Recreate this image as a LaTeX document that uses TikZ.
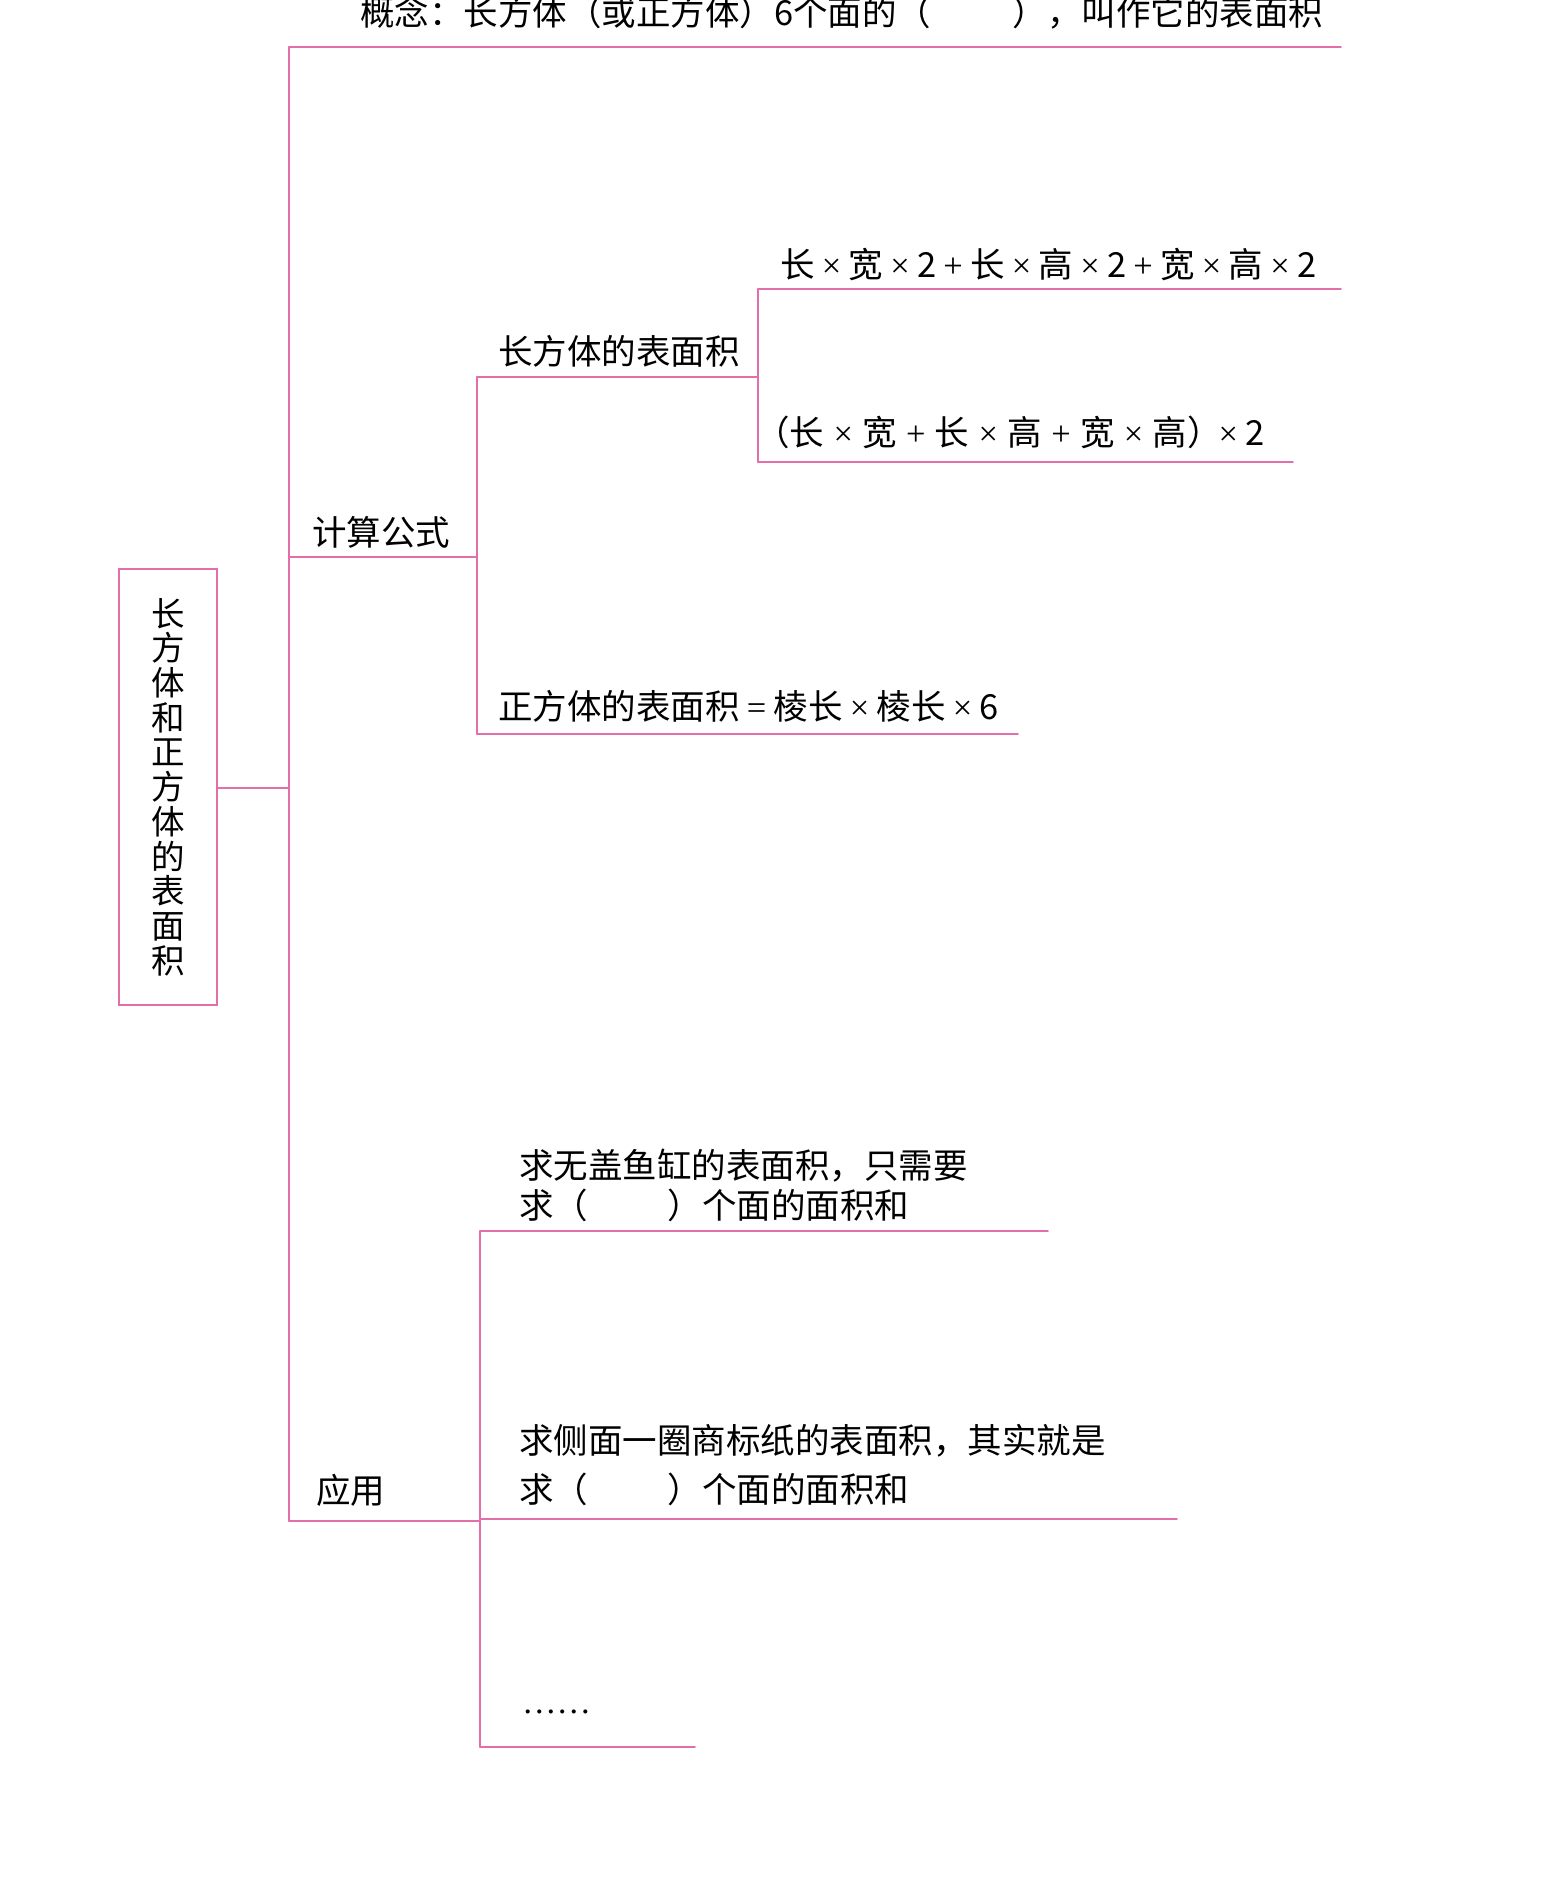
\documentclass[tikz,border=0pt]{standalone}
\usepackage{fontspec}
\setmainfont{Noto Sans CJK SC}
\newfontfamily\ellfont{Liberation Serif}
\newcommand{\opsp}{\hspace{0.21em}}
\newcommand{\opspw}{\hspace{0.27em}}
\newcommand{\mytimes}{\opsp{\ellfont ×}\opsp}
\newcommand{\myplus}{\opsp{\ellfont +}\opsp}
\newcommand{\myeq}{\opsp{\ellfont =}\opsp}
\newcommand{\mytimesw}{\opspw{\ellfont ×}\opspw}
\newcommand{\myplusw}{\opspw{\ellfont +}\opspw}
\definecolor{linepink}{RGB}{226,110,170}
\begin{document}
\begin{tikzpicture}[x=1pt,y=-1pt,
  conn/.style={draw=linepink,line width=1.8pt,line cap=round},
  txt/.style={anchor=west,inner sep=0pt,font=\fontsize{34.5}{40}\selectfont,text=black},
  rootbox/.style={draw=linepink,line width=1.8pt,minimum width=98pt,minimum height=436pt,inner sep=0pt,align=center,font=\fontsize{33.5}{34.7}\selectfont}]
\useasboundingbox (0,0) rectangle (1568,1883);
% root
\node[rootbox] (root) at (168,787) {长\\方\\体\\和\\正\\方\\体\\的\\表\\面\\积};
% coordinates
\coordinate (tTop) at (289,47);
\coordinate (tRoot) at (289,788);
\coordinate (tCalc) at (289,557);
\coordinate (tApp) at (289,1521);
\coordinate (cEnd) at (1341,47);
\coordinate (calcJ) at (477,557);
\coordinate (calcTop) at (477,377);
\coordinate (calcBot) at (477,734);
\coordinate (cubJ) at (758,377);
\coordinate (cubTop) at (758,289);
\coordinate (cubBot) at (758,462);
\coordinate (f1End) at (1341,289);
\coordinate (f2End) at (1293,462);
\coordinate (sqEnd) at (1018,734);
\coordinate (appJ) at (480,1521);
\coordinate (appTop) at (480,1231);
\coordinate (appMid) at (480,1519);
\coordinate (appBot) at (480,1747);
\coordinate (a1End) at (1048,1231);
\coordinate (a2End) at (1177,1519);
\coordinate (a3End) at (695,1747);
% texts
\node[txt] (concept) at (360,13) {概念：长方体（或正方体）6个面的（\hspace{2.36em}），叫作它的表面积};
\node[txt] (calc) at (312,532) {计算公式};
\node[txt] (cub) at (498,351) {长方体的表面积};
\node[txt] (f1) at (780,264) {长\mytimes 宽\mytimes 2\myplus 长\mytimes 高\mytimes 2\myplus 宽\mytimes 高\mytimes 2};
\node[txt] (f2) at (755,432) {（长\mytimesw 宽\myplusw 长\mytimesw 高\myplusw 宽\mytimesw 高）\hspace{-0.3em}\mytimes 2};
\node[txt] (sq) at (498,706) {正方体的表面积\myeq 棱长\mytimes 棱长\mytimes 6};
\node[txt] (app) at (316,1490) {应用};
\node[txt,align=left,font=\fontsize{34.5}{40}\selectfont] (a1) at (519,1185) {求无盖鱼缸的表面积，只需要\\求（\hspace{2.3em}）个面的面积和};
\node[txt,align=left,font=\fontsize{34.5}{49}\selectfont] (a2) at (519,1465) {求侧面一圈商标纸的表面积，其实就是\\求（\hspace{2.3em}）个面的面积和};
\node[txt,font=\fontsize{34.5}{40}\ellfont] (a3) at (522,1712) {……};
% connectors
\draw[conn] (tTop) -- (tApp);
\draw[conn] (tTop) -- (cEnd);
\draw[conn] (root.east |- tRoot) -- (tRoot);
\draw[conn] (tCalc) -- (calcJ);
\draw[conn] (calcTop) -- (calcBot);
\draw[conn] (calcTop) -- (cubJ);
\draw[conn] (cubTop) -- (cubBot);
\draw[conn] (cubTop) -- (f1End);
\draw[conn] (cubBot) -- (f2End);
\draw[conn] (calcBot) -- (sqEnd);
\draw[conn] (tApp) -- (appJ);
\draw[conn] (appTop) -- (appBot);
\draw[conn] (appTop) -- (a1End);
\draw[conn] (appMid) -- (a2End);
\draw[conn] (appBot) -- (a3End);
\end{tikzpicture}
\end{document}
